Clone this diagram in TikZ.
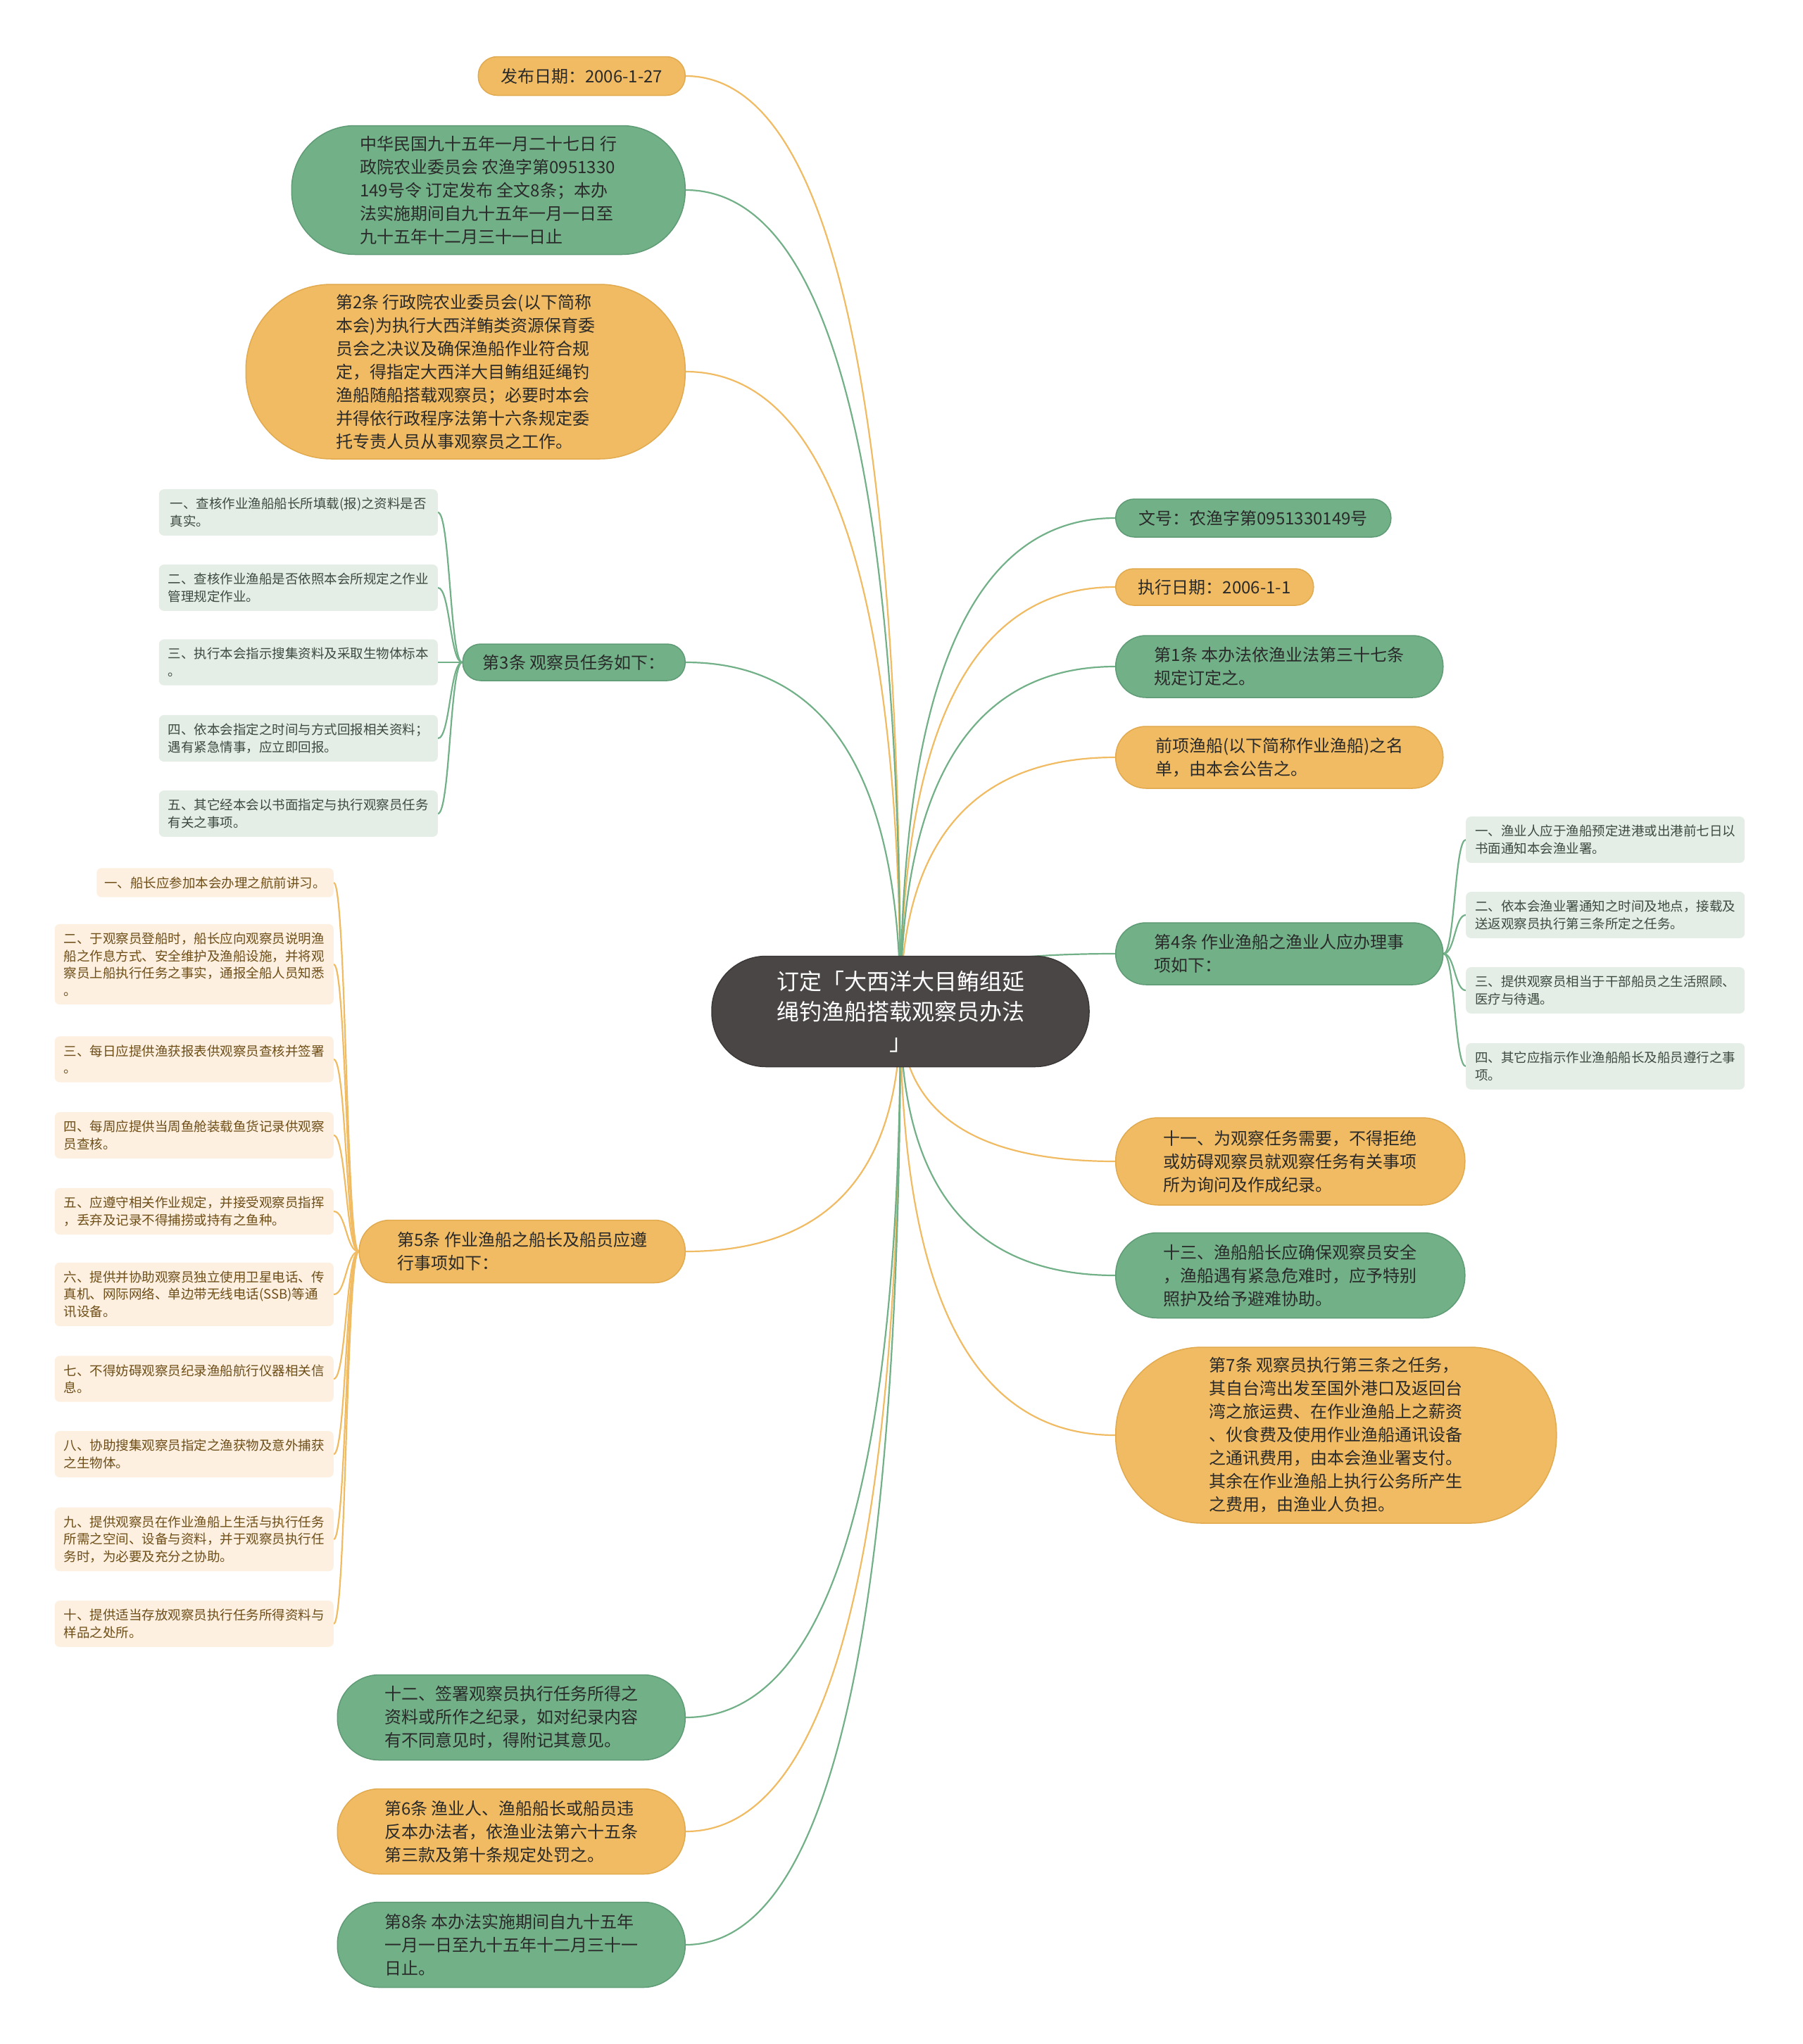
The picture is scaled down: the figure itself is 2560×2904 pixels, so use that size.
\documentclass[tikz,border=0pt]{standalone}
\usepackage{fontspec}
\setmainfont{Noto Sans CJK SC}
\usepackage{xcolor}
\definecolor{cGreen}{HTML}{72B088}
\definecolor{cGreenDark}{HTML}{5F9C75}
\definecolor{cOrange}{HTML}{F0BB62}
\definecolor{cOrangeDark}{HTML}{E2AA4F}
\definecolor{cRoot}{HTML}{4B4646}
\definecolor{cLeafG}{HTML}{E4EEE6}
\definecolor{cLeafO}{HTML}{FDF0E0}
\definecolor{cText}{HTML}{2A2A2A}
\definecolor{cTextG}{HTML}{3D4A40}
\definecolor{cTextO}{HTML}{6E4E18}
\usepackage{tikz}
\usetikzlibrary{calc,backgrounds}
\tikzset{
  node-root/.style={draw=cRoot!80!black,line width=1.5pt,fill=cRoot,text=white,
    rounded corners=77pt,minimum width=536pt,minimum height=157pt,align=center,
    font=\fontsize{32}{43}\selectfont},
  node-main/.style={line width=1.5pt,align=left,text=cText,
    font=\fontsize{24}{33}\selectfont,minimum height=#1,rounded corners=0.49*#1},
  node-green/.style={draw=cGreenDark,fill=cGreen},
  node-orange/.style={draw=cOrangeDark,fill=cOrange},
  node-leaf/.style={rounded corners=7pt,align=left,inner xsep=11pt,inner ysep=12pt,
    minimum width=396pt,font=\fontsize{18.5}{24.5}\selectfont},
  leaf-green/.style={node-leaf,fill=cLeafG,text=cTextG},
  leaf-orange/.style={node-leaf,fill=cLeafO,text=cTextO},
  link-green/.style={line width=2.2pt,draw=cGreen},
  link-orange/.style={line width=2.2pt,draw=cOrange},
  % 主干：以中心点为终点的二次曲线
  mapline/.style={to path={.. controls ($(\tikztostart)!2/3!(\tikztostart|-\tikztotarget)$)
    and ($(\tikztotarget)!2/3!(\tikztostart|-\tikztotarget)$) .. (\tikztotarget)}},
  % 分支到叶子的括号形曲线
  brace/.style={to path={.. controls ($(\tikztostart)!.5!(\tikztostart-|\tikztotarget)$)
    and ($(\tikztotarget)!.5!(\tikztotarget-|\tikztostart)$) .. (\tikztotarget)}},
}

\begin{document}
\begin{tikzpicture}[x=1pt,y=-1pt]
  \useasboundingbox (0,0) rectangle (2560,2904);
  % 中心主题
  \node[node-root] (root) at (1279,1437) {订定「大西洋大目鲔组延\\绳钓渔船搭载观察员办法\\」};

  % 左侧分支
  \node[node-main=55,node-orange,minimum width=294,anchor=east] (date) at (974,108) {发布日期：2006-1-27};
  \node[node-main=183,node-green,minimum width=559,anchor=east] (decree) at (974,270)
    {中华民国九十五年一月二十七日 行\\政院农业委员会 农渔字第0951330\\149号令 订定发布 全文8条；本办\\法实施期间自九十五年一月一日至\\九十五年十二月三十一日止};
  \node[node-main=248,node-orange,minimum width=624,anchor=east] (art2) at (974,528)
    {第2条 行政院农业委员会(以下简称\\本会)为执行大西洋鲔类资源保育委\\员会之决议及确保渔船作业符合规\\定，得指定大西洋大目鲔组延绳钓\\渔船随船搭载观察员；必要时本会\\并得依行政程序法第十六条规定委\\托专责人员从事观察员之工作。};
  \node[node-main=52,node-green,minimum width=316,anchor=east] (art3) at (974,941) {第3条 观察员任务如下：};
  \node[node-main=89,node-orange,minimum width=463,anchor=east] (art5) at (974,1778)
    {第5条 作业渔船之船长及船员应遵\\行事项如下：};
  \node[node-main=121,node-green,minimum width=494,anchor=east] (item12) at (974,2440)
    {十二、签署观察员执行任务所得之\\资料或所作之纪录，如对纪录内容\\有不同意见时，得附记其意见。};
  \node[node-main=121,node-orange,minimum width=494,anchor=east] (art6) at (974,2602)
    {第6条 渔业人、渔船船长或船员违\\反本办法者，依渔业法第六十五条\\第三款及第十条规定处罚之。};
  \node[node-main=121,node-green,minimum width=494,anchor=east] (art8) at (974,2763)
    {第8条 本办法实施期间自九十五年\\一月一日至九十五年十二月三十一\\日止。};

  % 右侧分支
  \node[node-main=54,node-green,minimum width=391,anchor=west] (docno) at (1584,736) {文号：农渔字第0951330149号};
  \node[node-main=52,node-orange,minimum width=281,anchor=west] (execdate) at (1584,834) {执行日期：2006-1-1};
  \node[node-main=88,node-green,minimum width=465,anchor=west] (art1) at (1584,947)
    {第1条 本办法依渔业法第三十七条\\规定订定之。};
  \node[node-main=88,node-orange,minimum width=465,anchor=west] (vessels) at (1584,1076)
    {前项渔船(以下简称作业渔船)之名\\单，由本会公告之。};
  \node[node-main=88,node-green,minimum width=465,anchor=west] (art4) at (1584,1355)
    {第4条 作业渔船之渔业人应办理事\\项如下：};
  \node[node-main=124,node-orange,minimum width=496,anchor=west] (item11) at (1584,1650)
    {十一、为观察任务需要，不得拒绝\\或妨碍观察员就观察任务有关事项\\所为询问及作成纪录。};
  \node[node-main=121,node-green,minimum width=496,anchor=west] (item13) at (1584,1812)
    {十三、渔船船长应确保观察员安全\\，渔船遇有紧急危难时，应予特别\\照护及给予避难协助。};
  \node[node-main=250,node-orange,minimum width=626,anchor=west] (art7) at (1584,2039)
    {第7条 观察员执行第三条之任务，\\其自台湾出发至国外港口及返回台\\湾之旅运费、在作业渔船上之薪资\\、伙食费及使用作业渔船通讯设备\\之通讯费用，由本会渔业署支付。\\其余在作业渔船上执行公务所产生\\之费用，由渔业人负担。};

  % 第3条 的叶子
  \node[leaf-green,anchor=east] (t3a) at (622,728) {一、查核作业渔船船长所填载(报)之资料是否\\真实。};
  \node[leaf-green,anchor=east] (t3b) at (622,835) {二、查核作业渔船是否依照本会所规定之作业\\管理规定作业。};
  \node[leaf-green,anchor=east] (t3c) at (622,941) {三、执行本会指示搜集资料及采取生物体标本\\。};
  \node[leaf-green,anchor=east] (t3d) at (622,1049) {四、依本会指定之时间与方式回报相关资料；\\遇有紧急情事，应立即回报。};
  \node[leaf-green,anchor=east] (t3e) at (622,1156) {五、其它经本会以书面指定与执行观察员任务\\有关之事项。};

  % 第5条 的叶子
  \node[leaf-orange,anchor=east,minimum width=335] (t5a) at (474,1254) {一、船长应参加本会办理之航前讲习。};
  \node[leaf-orange,anchor=east] (t5b) at (474,1370) {二、于观察员登船时，船长应向观察员说明渔\\船之作息方式、安全维护及渔船设施，并将观\\察员上船执行任务之事实，通报全船人员知悉\\。};
  \node[leaf-orange,anchor=east] (t5c) at (474,1505) {三、每日应提供渔获报表供观察员查核并签署\\。};
  \node[leaf-orange,anchor=east] (t5d) at (474,1613) {四、每周应提供当周鱼舱装载鱼货记录供观察\\员查核。};
  \node[leaf-orange,anchor=east] (t5e) at (474,1721) {五、应遵守相关作业规定，并接受观察员指挥\\，丢弃及记录不得捕捞或持有之鱼种。};
  \node[leaf-orange,anchor=east] (t5f) at (474,1839) {六、提供并协助观察员独立使用卫星电话、传\\真机、网际网络、单边带无线电话(SSB)等通\\讯设备。};
  \node[leaf-orange,anchor=east] (t5g) at (474,1959) {七、不得妨碍观察员纪录渔船航行仪器相关信\\息。};
  \node[leaf-orange,anchor=east] (t5h) at (474,2066) {八、协助搜集观察员指定之渔获物及意外捕获\\之生物体。};
  \node[leaf-orange,anchor=east] (t5i) at (474,2187) {九、提供观察员在作业渔船上生活与执行任务\\所需之空间、设备与资料，并于观察员执行任\\务时，为必要及充分之协助。};
  \node[leaf-orange,anchor=east] (t5j) at (474,2307) {十、提供适当存放观察员执行任务所得资料与\\样品之处所。};

  % 第4条 的叶子
  \node[leaf-green,anchor=west] (t4a) at (2082,1193) {一、渔业人应于渔船预定进港或出港前七日以\\书面通知本会渔业署。};
  \node[leaf-green,anchor=west] (t4b) at (2082,1300) {二、依本会渔业署通知之时间及地点，接载及\\送返观察员执行第三条所定之任务。};
  \node[leaf-green,anchor=west] (t4c) at (2082,1407) {三、提供观察员相当于干部船员之生活照顾、\\医疗与待遇。};
  \node[leaf-green,anchor=west] (t4d) at (2082,1515) {四、其它应指示作业渔船船长及船员遵行之事\\项。};

  % 连线（放在底层）
  \begin{scope}[on background layer]
    \fill[white] (0,0) rectangle (2560,2904);
    \foreach \n in {date,art2,art5,art6}
      \draw[link-orange] (root.center) to[mapline] (\n.east);
    \foreach \n in {decree,art3,item12,art8}
      \draw[link-green] (root.center) to[mapline] (\n.east);
    \foreach \n in {execdate,vessels,item11,art7}
      \draw[link-orange] (root.center) to[mapline] (\n.west);
    \foreach \n in {docno,art1,art4,item13}
      \draw[link-green] (root.center) to[mapline] (\n.west);
    \foreach \k in {a,b,c,d,e}
      \draw[link-green] (art3.west) to[brace] (t3\k.east);
    \foreach \k in {a,b,c,d,e,f,g,h,i,j}
      \draw[link-orange] (art5.west) to[brace] (t5\k.east);
    \foreach \k in {a,b,c,d}
      \draw[link-green] (art4.east) to[brace] (t4\k.west);
  \end{scope}
\end{tikzpicture}
\end{document}
